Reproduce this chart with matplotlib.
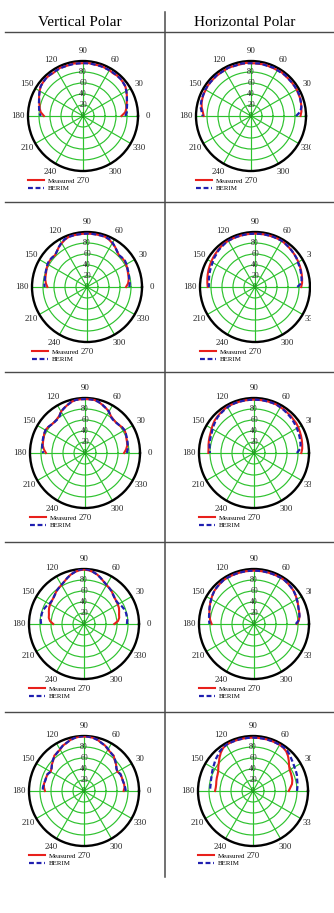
"""Vertical / horizontal polar patterns: measured vs. BERIM, five configurations."""

import matplotlib

matplotlib.use("Agg")
import matplotlib.pyplot as plt
import numpy as np
from matplotlib.lines import Line2D
from matplotlib.patches import Rectangle

plt.rcParams["font.family"] = "serif"
plt.rcParams["font.serif"] = ["Liberation Serif", "DejaVu Serif"]

W, H = 334, 913

# sample angles, degrees (0 .. 180 every 5)
ANGLES = list(range(0, 181, 5))

# ---- row 1 ----
V1_MEASURED = [70, 77, 80, 82, 85, 88, 91, 94, 95,
               96, 96, 95, 96, 96, 97, 96, 96, 97, 96, 96, 97, 96, 96, 97, 96, 95, 96, 96,
               95, 94, 91, 88, 85, 82, 80, 77, 71]
V1_BERIM = [77, 80, 81, 83, 85, 88, 91, 94, 95,
            96, 96, 96, 96, 96, 96, 96, 96, 96, 96, 96, 96, 96, 96, 96, 96, 96, 96, 96,
            95, 94, 91, 88, 85, 83, 81, 80, 77]
H1_MEASURED = [90, 92, 93, 94, 95, 95, 96, 96, 96,
               96, 96, 97, 96, 96, 96, 97, 96, 96, 96, 97, 96, 96, 96, 97, 96, 96, 96, 96,
               96, 96, 95, 95, 94, 93, 91, 88, 86]
H1_BERIM = [82, 90, 93, 94, 95, 96, 96, 96, 96,
            96, 97, 96, 96, 97, 96, 96, 97, 96, 96, 96, 97, 96, 96, 97, 96, 96, 97, 96,
            96, 96, 96, 95, 95, 94, 93, 90, 88]

# ---- row 2 ----
V2_MEASURED = [71, 75, 77, 78, 79, 81, 82, 83, 83,
               82, 85, 89, 92, 95, 97, 97, 97, 97, 97, 97, 97, 97, 97, 95, 92, 89, 85, 82,
               83, 83, 82, 81, 79, 78, 77, 75, 72]
V2_BERIM = [77, 78, 78, 79, 80, 81, 83, 84, 83,
            82, 85, 89, 93, 96, 97, 97, 97, 97, 97, 97, 97, 97, 97, 96, 93, 89, 85, 82,
            83, 84, 83, 81, 80, 79, 78, 78, 77]
H2_MEASURED = [84, 86, 87, 88, 89, 90, 91, 92, 93,
               94, 95, 96, 97, 97, 97, 97, 97, 97, 97, 97, 97, 97, 97, 97, 97, 97, 96, 95,
               94, 93, 92, 91, 90, 89, 88, 87, 86]
H2_BERIM = [77, 85, 86, 87, 88, 89, 90, 92, 93,
            94, 95, 96, 97, 97, 97, 97, 97, 97, 97, 97, 97, 97, 97, 97, 97, 96, 95, 94,
            92, 91, 89, 88, 87, 86, 85, 84, 84]

# ---- row 3 ----
V3_MEASURED = [71, 75, 78, 79, 80, 82, 83, 82, 80,
               79, 80, 82, 87, 90, 93, 96, 98, 98, 98, 98, 98, 96, 93, 90, 87, 82, 80, 79,
               80, 82, 83, 82, 80, 79, 78, 75, 71]
V3_BERIM = [76, 78, 79, 80, 81, 82, 83, 82, 80,
            79, 79, 81, 87, 90, 93, 96, 98, 98, 98, 98, 98, 96, 93, 90, 87, 81, 79, 79,
            80, 82, 83, 82, 81, 80, 79, 78, 76]
H3_MEASURED = [86, 88, 89, 90, 91, 92, 93, 94, 94,
               95, 95, 96, 96, 97, 97, 97, 97, 97, 97, 97, 97, 97, 97, 97, 97, 96, 95, 94,
               93, 91, 89, 87, 86, 85, 84, 83, 83]
H3_BERIM = [78, 84, 86, 87, 88, 89, 90, 91, 92,
            93, 94, 95, 96, 97, 97, 97, 97, 97, 97, 97, 97, 97, 97, 97, 96, 95, 94, 93,
            91, 89, 87, 85, 84, 83, 82, 81, 80]

# ---- row 4 ----
V4_MEASURED = [55, 62, 65, 66, 68, 70, 71, 72, 73,
               75, 78, 80, 82, 85, 89, 93, 96, 98, 99, 98, 96, 93, 89, 85, 82, 80, 78, 75,
               73, 72, 71, 70, 68, 66, 65, 62, 56]
V4_BERIM = [78, 79, 79, 79, 78, 76, 73, 72, 73,
            75, 78, 80, 82, 85, 89, 93, 96, 99, 100, 99, 96, 93, 89, 85, 82, 80, 78, 75,
            73, 72, 73, 76, 78, 79, 79, 79, 78]
H4_MEASURED = [78, 82, 84, 85, 86, 88, 90, 92, 94,
               95, 96, 97, 97, 97, 97, 97, 97, 97, 97, 97, 97, 97, 97, 97, 97, 97, 96, 95,
               94, 92, 90, 88, 86, 84, 82, 80, 77]
H4_BERIM = [76, 82, 84, 85, 86, 88, 90, 92, 94,
            95, 96, 97, 97, 97, 97, 97, 97, 97, 97, 97, 97, 97, 97, 97, 97, 97, 96, 95,
            94, 92, 90, 88, 86, 84, 83, 82, 81]

# ---- row 5 ----
V5_MEASURED = [72, 74, 74, 73, 73, 73, 70, 72, 76,
               79, 84, 85, 87, 91, 93, 96, 98, 99, 99, 99, 98, 96, 93, 91, 87, 85, 84, 79,
               76, 72, 70, 73, 73, 73, 74, 73, 71]
V5_BERIM = [76, 75, 74, 73, 73, 73, 70, 72, 76,
            80, 83, 85, 88, 91, 93, 96, 98, 99, 100, 99, 98, 96, 93, 91, 88, 85, 83, 80,
            76, 72, 70, 73, 73, 73, 74, 75, 75]
H5_MEASURED = [65, 68, 72, 74, 75, 76, 77, 80, 85,
               90, 94, 96,
               97, 97, 97, 97, 97, 97, 97, 97, 97, 97, 97, 97, 97,
               95, 91, 86,
               81, 77, 73, 71, 70, 69, 68, 68, 69]
H5_BERIM = [80, 81, 82, 83, 85, 86, 87, 89, 91,
            94, 96, 97,
            97, 97, 97, 97, 97, 97, 97, 97, 97, 97, 97, 97, 97,
            96, 94, 91,
            89, 86, 84, 82, 80, 79, 78, 78, 78]

VERTICAL = [(V1_MEASURED, V1_BERIM), (V2_MEASURED, V2_BERIM), (V3_MEASURED, V3_BERIM),
            (V4_MEASURED, V4_BERIM), (V5_MEASURED, V5_BERIM)]
HORIZONTAL = [(H1_MEASURED, H1_BERIM), (H2_MEASURED, H2_BERIM), (H3_MEASURED, H3_BERIM),
              (H4_MEASURED, H4_BERIM), (H5_MEASURED, H5_BERIM)]

THETA_LABELS = list(range(0, 360, 30))
RADIAL_LABELS = [20, 40, 60, 80]
HEADERS = ["Vertical Polar", "Horizontal Polar"]

# pixel layout of the page
ROW_CY = [116, 287, 453, 624, 791]
LEFT_CX = [83, 87, 85, 84, 84]
RIGHT_CX = [251, 255, 254, 254, 253]
RADIUS = 55
ROW_LINES = [32, 202, 372, 542, 712]

GRID_GREEN = "#2ec22e"
MEAS_COLOR = "#e8201c"
BERIM_COLOR = "#1f1fb0"


def fx(px):
    return px / W


def fy(py):
    return 1 - py / H


def draw_panel(fig, cx, cy, measured, berim):
    ax = fig.add_axes([fx(cx - RADIUS), fy(cy + RADIUS), 2 * RADIUS / W, 2 * RADIUS / H],
                      projection="polar")
    ax.set_ylim(0, 100)
    ax.set_xticks(np.radians(THETA_LABELS))
    ax.set_xticklabels([])
    ax.set_yticks(RADIAL_LABELS)
    ax.set_yticklabels([])
    ax.grid(True, color=GRID_GREEN, lw=0.85)
    ax.spines["polar"].set_linewidth(1.7)
    ax.spines["polar"].set_color("black")

    theta = np.radians(ANGLES)
    m, = ax.plot(theta, measured, color=MEAS_COLOR, lw=1.5, label="Measured", zorder=3)
    b, = ax.plot(theta, berim, color=BERIM_COLOR, lw=1.6, ls=(0, (2.2, 1.2)),
                 label="BERIM", zorder=4)

    for a in THETA_LABELS:
        ax.text(np.radians(a), 118, str(a), ha="center", va="center", fontsize=6.3,
                color="#222222", clip_on=False)
    for r in RADIAL_LABELS:
        ax.text(np.pi / 2, r, str(r), ha="center", va="center", fontsize=5.6,
                color="#2a2a2a", zorder=5)
    ax.text(0, 0, "0", ha="center", va="center", fontsize=5.6, color="#168a16",
            fontweight="bold", zorder=5)

    ax.legend(handles=[m, b], loc="upper left",
              bbox_to_anchor=(fx(cx - RADIUS), fy(cy + 62)), bbox_transform=fig.transFigure,
              frameon=False, fontsize=5, handlelength=2.3, handletextpad=0.6,
              labelspacing=0.25, borderpad=0, borderaxespad=0)
    return ax


def main():
    fig = plt.figure(figsize=(W / 100, H / 100), dpi=100)

    for i in range(5):
        draw_panel(fig, LEFT_CX[i], ROW_CY[i], *VERTICAL[i])
        draw_panel(fig, RIGHT_CX[i], ROW_CY[i], *HORIZONTAL[i])

    # right edge of the scan is blanked out
    fig.patches.append(Rectangle((fx(311), fy(877)), 1 - fx(311), fy(40) - fy(877),
                                 transform=fig.transFigure, facecolor="white",
                                 edgecolor="none", zorder=5))

    fig.text(fx(80), fy(22), HEADERS[0], ha="center", va="center", fontsize=11)
    fig.text(fx(245), fy(22), HEADERS[1], ha="center", va="center", fontsize=11)

    for y in ROW_LINES:
        fig.lines.append(Line2D([fx(5), 1], [fy(y), fy(y)], transform=fig.transFigure,
                                color="#4a4a4a", lw=1.0, zorder=10))
    fig.lines.append(Line2D([fx(165), fx(165)], [fy(12), fy(877)], transform=fig.transFigure,
                            color="#4a4a4a", lw=1.1, zorder=10))

    fig.savefig("out.png", dpi=100)
    plt.close(fig)


if __name__ == "__main__":
    main()
